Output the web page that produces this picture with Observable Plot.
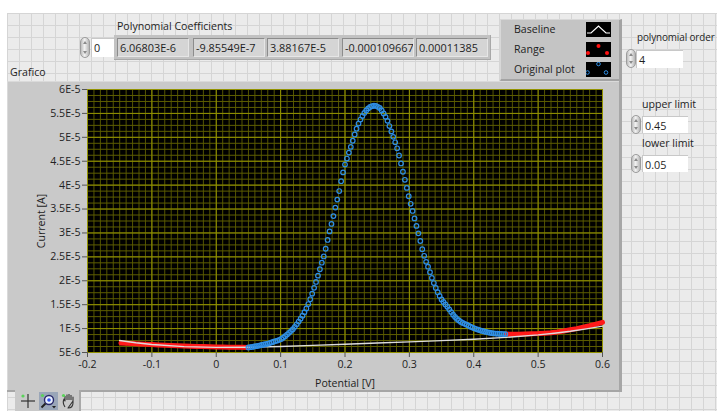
<!DOCTYPE html>
<html>
<head>
<meta charset="utf-8">
<script src="https://cdn.jsdelivr.net/npm/d3@7"></script>
<script src="https://cdn.jsdelivr.net/npm/@observablehq/plot@0.6"></script>
<style>
  html, body { margin: 0; padding: 0; }
  body {
    width: 717px; height: 411px; position: relative; overflow: hidden;
    background: #fff; font-family: "Open Sans", "Noto Sans", sans-serif;
    font-size: 10.6px; color: #1e1e1e;
  }
  #panel {
    position: absolute; left: 7px; top: 13px; right: 0; bottom: 0;
    background-color: #ebebeb;
    background-image:
      linear-gradient(#d5d5d5 1px, transparent 1px),
      linear-gradient(90deg, #d5d5d5 1px, transparent 1px);
    background-size: 12px 12px;
    background-position: 0 0, 0 0;
  }
  .lbl { position: absolute; white-space: nowrap; line-height: 12px; }
  .spin {
    position: absolute; width: 10px; border-radius: 6px;
    background: linear-gradient(90deg, #bdbdbd, #f2f2f2 45%, #b5b5b5);
    border: 1px solid #9c9c9c; box-sizing: border-box;
  }
  .spin::before, .spin::after {
    content: ""; position: absolute; left: 2px;
    border-left: 2.5px solid transparent; border-right: 2.5px solid transparent;
  }
  .spin::before { top: 3px; border-bottom: 3px solid #8a8a8a; }
  .spin::after { bottom: 3px; border-top: 3px solid #8a8a8a; }
  .num {
    position: absolute; background: #fff; box-sizing: border-box;
    border-top: 1px solid #c8c8c8; border-left: 1px solid #c8c8c8;
    padding-left: 2px; line-height: 17px; font-size: 10.8px;
  }
  #coefArray {
    position: absolute; left: 114px; top: 35px; width: 377px; height: 25px;
    background: #c2c2c2; box-sizing: border-box;
    border-right: 1px solid #a8a8a8; border-bottom: 1px solid #a8a8a8;
  }
  .cell {
    position: absolute; top: 38px; height: 19px; width: 72px; box-sizing: border-box;
    background: #d5d5d5; border-top: 1px solid #8c8c8c; border-left: 1px solid #8c8c8c;
    border-right: 1px solid #e6e6e6; border-bottom: 1px solid #e6e6e6;
    padding-left: 2px; line-height: 17px; font-size: 10.9px; white-space: nowrap; overflow: hidden;
  }
  #legend {
    position: absolute; left: 500px; top: 19px; width: 122px; height: 62px;
    background: #c4c4c4; box-sizing: border-box;
    border-top: 1px solid #d8d8d8; border-left: 1px solid #d8d8d8;
    border-right: 3px solid #a3a3a3; border-bottom: 2px solid #a3a3a3;
  }
  .legIcon { position: absolute; left: 85px; width: 25px; height: 15px; }
  #graph {
    position: absolute; left: 7px; top: 81px; width: 615px; height: 311px;
    background: #c9c9c9; box-sizing: border-box;
    box-shadow: inset -3px -2px 0 #a6a6a6, inset 1px 1px 0 #dadada;
  }
  #graph svg { position: absolute; left: 0; top: 0; }
  #palette {
    position: absolute; left: 15px; top: 390px; width: 66px; height: 21px;
    background: #c9c9c9; box-shadow: inset -2px 0 0 #a9a9a9;
  }
  #palette svg { position: absolute; top: 2px; }
</style>
</head>
<body>
<div id="panel"></div>

<div class="lbl" style="left:117px;top:20px;">Polynomial Coefficients</div>
<div class="spin" style="left:80px;top:37px;height:21px;"></div>
<div class="num" style="left:91px;top:38px;width:24px;height:19px;">0</div>
<div id="coefArray"></div>
<div id="cells"></div>

<div id="legend"></div>

<div class="lbl" style="left:10px;top:66px;">Grafico</div>

<div class="lbl" style="left:637px;top:31px;font-size:9.9px;letter-spacing:-0.1px;">polynomial order</div>
<div class="spin" style="left:626px;top:49px;height:19px;"></div>
<div class="num" style="left:636px;top:50px;width:47px;height:18px;" id="orderBox"></div>

<div class="lbl" style="left:642px;top:98px;">upper limit</div>
<div class="spin" style="left:631px;top:115px;height:19px;"></div>
<div class="num" style="left:642px;top:116px;width:46px;height:17px;" id="upperBox"></div>

<div class="lbl" style="left:642px;top:137px;">lower limit</div>
<div class="spin" style="left:631px;top:154px;height:19px;"></div>
<div class="num" style="left:642px;top:155px;width:46px;height:17px;" id="lowerBox"></div>

<div id="graph"></div>

<div id="palette">
  <svg style="left:4px" width="18" height="18" viewBox="0 0 18 18">
    <line x1="9" y1="2" x2="9" y2="16" stroke="#333" stroke-width="1.2"/>
    <line x1="2" y1="9" x2="16" y2="9" stroke="#333" stroke-width="1.2"/>
    <circle cx="4" cy="4" r="1.6" fill="#5ad35a"/>
  </svg>
  <svg style="left:24px" width="19" height="18" viewBox="0 0 19 18">
    <rect x="0" y="0" width="19" height="18" fill="#9aa6b8"/>
    <circle cx="10" cy="8" r="4.5" fill="#e8f0ff" stroke="#2a2a6a" stroke-width="1.4"/>
    <circle cx="10" cy="8" r="1.8" fill="#3355ee"/>
    <line x1="6.5" y1="11.5" x2="2.5" y2="15.5" stroke="#222" stroke-width="2"/>
    <path d="M13 14 L17 14 L15 16.5 Z" fill="#222"/>
    <circle cx="3.5" cy="3.5" r="1.6" fill="#5ad35a"/>
  </svg>
  <svg style="left:45px" width="18" height="18" viewBox="0 0 18 18">
    <path d="M5 15 C3 12 3 9 4 7 L5 9 L5 4 M7 8 L7 2.5 M9 8 L9 2 M11 8 L11 3 M13 9 L13 5 L13 11 C13 14 11 16 8 16 Z"
      fill="none" stroke="#333" stroke-width="1.1" stroke-linejoin="round"/>
    <circle cx="3.5" cy="3.5" r="1.6" fill="#5ad35a"/>
  </svg>
</div>

<script>
// Controls on the panel
const coefficientLabels = ["6.06803E-6", "-9.85549E-7", "3.88167E-5", "-0.000109667", "0.00011385"];
const polynomialOrder = "4";
const upperLimit = "0.45";
const lowerLimit = "0.05";
const legendNames = ["Baseline", "Range", "Original plot"];

// Measured curve inside the fit window (potential in V, current in µA)
const peakPotential = [0.050,0.053,0.056,0.059,0.062,0.065,0.068,0.071,0.074,0.077,0.080,0.083,0.086,0.089,0.092,0.095,0.098,0.101,0.104,0.107,0.110,0.113,0.116,0.119,0.122,0.125,0.128,0.131,0.134,0.137,0.140,0.143,0.146,0.149,0.152,0.155,0.158,0.161,0.164,0.167,0.170,0.173,0.176,0.179,0.182,0.185,0.188,0.191,0.194,0.197,0.200,0.203,0.206,0.209,0.212,0.215,0.218,0.221,0.224,0.227,0.230,0.233,0.236,0.239,0.242,0.245,0.248,0.251,0.254,0.257,0.260,0.263,0.266,0.269,0.272,0.275,0.278,0.281,0.284,0.287,0.290,0.293,0.296,0.299,0.302,0.305,0.308,0.311,0.314,0.317,0.320,0.323,0.326,0.329,0.332,0.335,0.338,0.341,0.344,0.347,0.350,0.353,0.356,0.359,0.362,0.365,0.368,0.371,0.374,0.377,0.380,0.383,0.386,0.389,0.392,0.395,0.398,0.401,0.404,0.407,0.410,0.413,0.416,0.419,0.422,0.425,0.428,0.431,0.434,0.437,0.440,0.443,0.446,0.449];
const peakCurrent = [6.05,6.11,6.17,6.25,6.33,6.40,6.49,6.58,6.67,6.76,6.85,6.97,7.10,7.25,7.38,7.50,7.65,7.84,8.11,8.42,8.75,9.11,9.48,9.87,10.36,10.90,11.47,12.06,12.69,13.42,14.20,15.13,16.14,17.31,18.52,19.75,21.07,22.41,23.78,25.09,26.70,28.54,30.32,31.88,33.52,35.30,36.98,38.76,40.82,42.66,44.30,45.56,46.80,48.00,49.28,50.60,51.80,52.88,53.72,54.44,55.10,55.61,56.05,56.35,56.52,56.63,56.56,56.37,56.13,55.63,55.00,54.28,53.44,52.36,51.24,50.10,48.96,47.70,46.20,44.54,42.80,41.12,39.42,37.68,36.10,34.60,33.04,31.48,29.92,28.32,26.60,25.22,23.96,22.94,21.80,20.60,19.52,18.50,17.60,16.82,16.10,15.56,15.04,14.56,14.02,13.45,12.91,12.42,12.03,11.70,11.40,11.19,10.99,10.81,10.61,10.40,10.22,10.05,9.90,9.76,9.63,9.51,9.40,9.30,9.21,9.13,9.06,9.01,8.96,8.93,8.90,8.88,8.86,8.85];

// Measured curve outside the window (the baseline range), left and right parts
const rangeLeftPotential = [-0.148,-0.14,-0.13,-0.12,-0.11,-0.10,-0.09,-0.08,-0.07,-0.06,-0.05,-0.04,-0.03,-0.02,-0.01,0.00,0.01,0.02,0.03,0.04,0.05];
const rangeLeftCurrent = [7.00,6.95,6.88,6.80,6.72,6.65,6.58,6.52,6.47,6.42,6.37,6.32,6.28,6.24,6.20,6.17,6.14,6.12,6.10,6.08,6.05];
const rangeRightPotential = [0.45,0.46,0.47,0.48,0.49,0.50,0.51,0.52,0.53,0.54,0.55,0.56,0.57,0.58,0.59,0.60];
const rangeRightCurrent = [8.85,8.82,8.82,8.85,8.90,8.95,9.05,9.15,9.30,9.50,9.75,10.00,10.30,10.60,10.95,11.30];

// Fitted 4th-order baseline
const baselinePotential = [-0.15,-0.125,-0.10,-0.05,0.00,0.05,0.10,0.15,0.20,0.25,0.30,0.35,0.40,0.45,0.50,0.525,0.55,0.575,0.60];
const baselineCurrent = [7.52,7.05,6.68,6.23,6.07,6.10,6.26,6.48,6.73,6.98,7.23,7.49,7.78,8.16,8.69,9.04,9.44,9.95,10.52];

// Axis ticks
const xTicks = [-0.2,-0.1,0,0.1,0.2,0.3,0.4,0.5,0.6];
const xTickLabels = ["-0.2","-0.1","0","0.1","0.2","0.3","0.4","0.5","0.6"];
const yTicks = [5,10,15,20,25,30,35,40,45,50,55,60];
const yTickLabels = ["5E-6","1E-5","1.5E-5","2E-5","2.5E-5","3E-5","3.5E-5","4E-5","4.5E-5","5E-5","5.5E-5","6E-5"];

// Panel widgets
const cellLeft = [117, 193, 267, 342, 416];
const cellsDiv = document.getElementById("cells");
coefficientLabels.forEach((t, i) => {
  const c = document.createElement("div");
  c.className = "cell";
  c.style.left = cellLeft[i] + "px";
  c.textContent = t;
  cellsDiv.appendChild(c);
});
document.getElementById("orderBox").textContent = polynomialOrder;
document.getElementById("upperBox").textContent = upperLimit;
document.getElementById("lowerBox").textContent = lowerLimit;

const legend = document.getElementById("legend");
const legendIcons = [
  `<svg class="legIcon" style="top:2px" viewBox="0 0 25 15"><rect width="25" height="15" fill="#000"/><polyline points="1,11 5,11 12.5,4 20,11 24,11" fill="none" stroke="#fff" stroke-width="1.2"/></svg>`,
  `<svg class="legIcon" style="top:22px" viewBox="0 0 25 15"><rect width="25" height="15" fill="#000"/><circle cx="12.5" cy="4" r="2" fill="#ff1010"/><circle cx="2" cy="11" r="2" fill="#ff1010"/><circle cx="21" cy="11" r="2" fill="#ff1010"/></svg>`,
  `<svg class="legIcon" style="top:42px" viewBox="0 0 25 15"><rect width="25" height="15" fill="#000"/><circle cx="12.5" cy="2" r="1.8" fill="none" stroke="#2f8fe6" stroke-width="1"/><circle cx="1.5" cy="10.5" r="1.8" fill="none" stroke="#2f8fe6" stroke-width="1"/><circle cx="20" cy="10.5" r="1.8" fill="none" stroke="#2f8fe6" stroke-width="1"/></svg>`
];
legendNames.forEach((name, i) => {
  const t = document.createElement("div");
  t.className = "lbl";
  t.style.left = "13px";
  t.style.top = (3 + i * 20) + "px";
  t.textContent = name;
  legend.appendChild(t);
});
legend.insertAdjacentHTML("beforeend", legendIcons.join(""));

// Graph
const xLabel = new Map(xTicks.map((d, i) => [d, xTickLabels[i]]));
const yLabel = new Map(yTicks.map((d, i) => [d, yTickLabels[i]]));
const peak = peakPotential.map((v, i) => ({v, c: peakCurrent[i]}));
const rangeLeft = rangeLeftPotential.map((v, i) => ({v, c: rangeLeftCurrent[i]}));
const rangeRight = rangeRightPotential.map((v, i) => ({v, c: rangeRightCurrent[i]}));
const baseline = baselinePotential.map((v, i) => ({v, c: baselineCurrent[i]}));

const minorY = d3.range(5, 60.001, 1.25);

const chart = Plot.plot({
  width: 615,
  height: 311,
  marginLeft: 80,
  marginRight: 20,
  marginTop: 8,
  marginBottom: 40,
  style: {background: "transparent", fontFamily: "'Open Sans', sans-serif", fontSize: "10.6px", color: "#222", overflow: "visible"},
  x: {domain: [-0.2, 0.6]},
  y: {domain: [5, 60]},
  marks: [
    Plot.frame({fill: "#000", stroke: "#000"}),
    Plot.gridX({ticks: 80, stroke: "#555500", strokeOpacity: 1, strokeWidth: 1}),
    Plot.gridY(minorY, {stroke: "#5e5e00", strokeOpacity: 1, strokeWidth: 1}),
    Plot.gridX(xTicks, {stroke: "#929200", strokeOpacity: 1, strokeWidth: 1}),
    Plot.gridY(yTicks, {stroke: "#929200", strokeOpacity: 1, strokeWidth: 1}),
    Plot.axisX(xTicks, {
      tickFormat: d => xLabel.get(d), tickSize: 5, tickPadding: 3, stroke: "#555",
      label: "Potential [V]", labelAnchor: "center", labelArrow: "none", labelOffset: 34
    }),
    Plot.axisY(yTicks, {
      tickFormat: d => yLabel.get(d), tickSize: 5, tickPadding: 2, stroke: "#555",
      label: "Current [A]", labelAnchor: "center", labelArrow: "none", labelOffset: 50
    }),
    Plot.line(rangeLeft, {x: "v", y: "c", stroke: "#ff1a1a", strokeWidth: 5}),
    Plot.line(rangeRight, {x: "v", y: "c", stroke: "#ff1a1a", strokeWidth: 5}),
    Plot.line(baseline, {x: "v", y: "c", stroke: "#dcdcdc", strokeWidth: 1.4}),
    Plot.dot(peak, {x: "v", y: "c", r: 2.3, stroke: "#2f8fe6", strokeWidth: 1.2, fill: "none"})
  ]
});
document.getElementById("graph").appendChild(chart);
</script>
</body>
</html>
